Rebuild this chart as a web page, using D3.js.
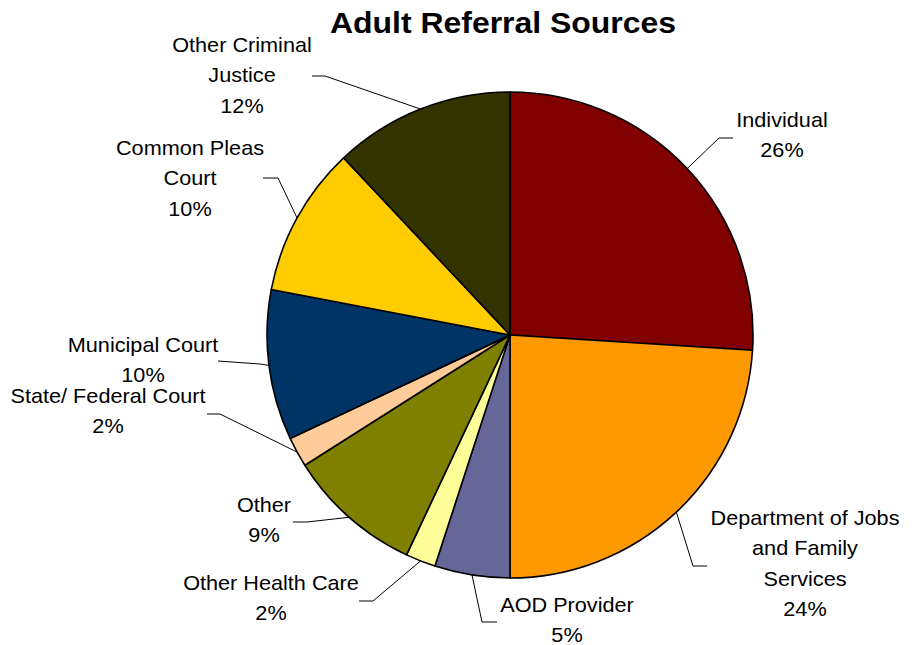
<!DOCTYPE html>
<html><head><meta charset="utf-8">
<script src="https://cdn.jsdelivr.net/npm/d3@7"></script>
<style>body{margin:0;background:#fff}</style>
</head><body><svg id="chart" width="914" height="645"></svg>
<script>
// Referral sources, clockwise from 12 o'clock
const categories = ["Individual", "Department of Jobs\nand Family\nServices", "AOD Provider", "Other Health Care",
  "Other", "State/ Federal Court", "Municipal Court", "Common Pleas\nCourt", "Other Criminal\nJustice"];
const shares = [26, 24, 5, 2, 9, 2, 10, 10, 12];
const colors = ["#800000", "#FF9900", "#666699", "#FFFF99", "#808000", "#FFCC99", "#003366", "#FFCC00", "#333300"];
const title = "Adult Referral Sources";

// Label placement: text centre x, first baseline y, and the leader-line points beside the text
const labelLayout = [
  {x: 782, y: 127, leader: [[733, 138], [719, 138]]},
  {x: 805, y: 525, leader: [[707, 566], [693, 566]]},
  {x: 567, y: 612, leader: [[497, 622], [482, 622]]},
  {x: 271, y: 590, leader: [[359, 601], [373, 601]]},
  {x: 264, y: 512, leader: [[293, 522], [307, 522]]},
  {x: 108, y: 403, leader: [[207, 414], [220, 414]]},
  {x: 143, y: 352, leader: [[218, 361], [260, 364]]},
  {x: 190, y: 155, leader: [[263, 178], [278, 178]]},
  {x: 242, y: 52, leader: [[312, 76], [325, 76]]}
];

const cx = 510, cy = 335, R = 243, lineGap = 30.5;
const fontFamily = "Liberation Sans, Arial, sans-serif";
const svg = d3.select("#chart");

// Title, set slightly wide
svg.append("g").attr("transform", "translate(503,33) scale(1.065,1)")
  .append("text")
  .attr("text-anchor", "middle")
  .attr("font-family", fontFamily)
  .attr("font-weight", "bold").attr("font-size", 30)
  .text(title);

const data = shares.map((v, i) => ({name: categories[i], value: v, color: colors[i], layout: labelLayout[i]}));
const pie = d3.pie().sort(null).value(d => d.value);
const arcs = pie(data);
const arc = d3.arc().innerRadius(0).outerRadius(R);
const edge = d3.arc().innerRadius(R).outerRadius(R);

const g = svg.append("g").attr("transform", `translate(${cx},${cy})`);
g.selectAll("path.slice").data(arcs).join("path")
  .attr("class", "slice")
  .attr("d", arc)
  .attr("fill", d => d.data.color)
  .attr("stroke", "#000").attr("stroke-width", 1.6).attr("stroke-linejoin", "round");

// Leader lines from each slice's outer edge to its label
const line = d3.line();
svg.selectAll("path.leader").data(arcs).join("path")
  .attr("class", "leader")
  .attr("d", d => {
    const [ex, ey] = edge.centroid(d);
    const pts = d.data.layout.leader.concat([[cx + ex, cy + ey]]);
    return line(pts);
  })
  .attr("fill", "none").attr("stroke", "#000").attr("stroke-width", 1);

// Category name plus share, one tspan per line
const labels = svg.selectAll("g.lbl").data(arcs).join("g")
  .attr("class", "lbl")
  .attr("transform", d => `translate(${d.data.layout.x},${d.data.layout.y}) scale(1.057,1)`)
  .append("text")
  .attr("text-anchor", "middle")
  .attr("font-family", fontFamily)
  .attr("font-size", 20.5)
  .attr("fill", "#000");
labels.each(function(d) {
  const lines = d.data.name.split("\n").concat([d.data.value + "%"]);
  const t = d3.select(this);
  lines.forEach((s, k) => {
    t.append("tspan").attr("x", 0).attr("y", k * lineGap).text(s);
  });
});
</script>
</body></html>
